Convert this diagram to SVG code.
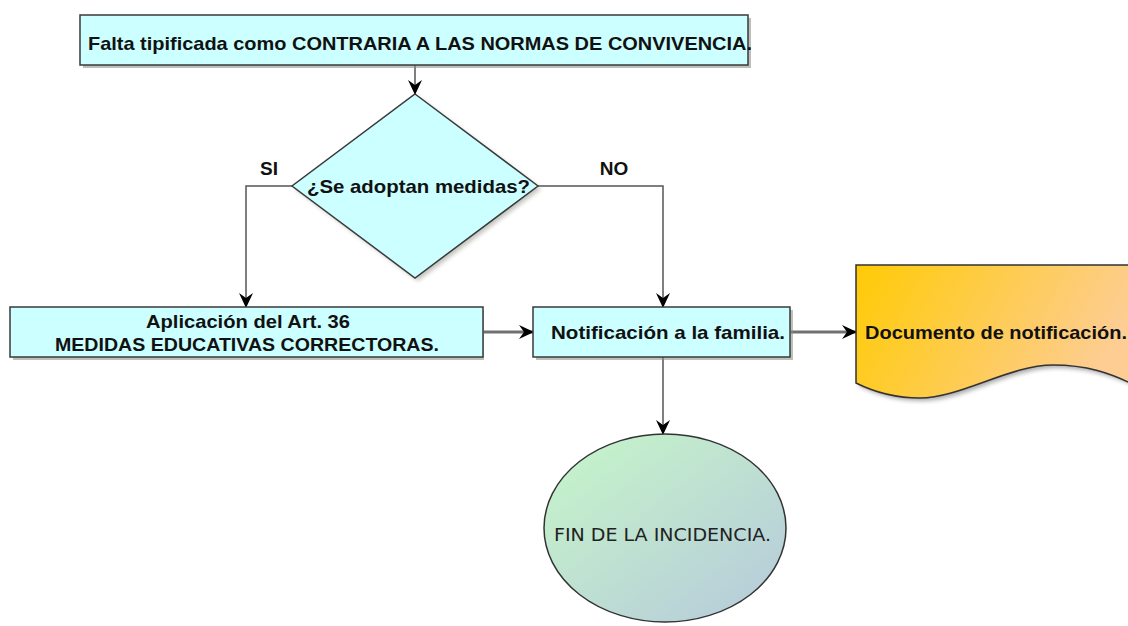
<svg xmlns="http://www.w3.org/2000/svg" width="1128" height="626" viewBox="0 0 1128 626">
<style>
.box{fill:#ccffff;stroke:#3a3a3a;stroke-width:1.5}
.shadow{fill:#8a8a80;opacity:0.55}
.lbl{font-family:"Liberation Sans Narrow","Liberation Sans",Arial,sans-serif;font-weight:bold;font-size:19px;fill:#111}
.reg{font-family:"DejaVu Sans","Liberation Sans",sans-serif;font-size:18px;fill:#222}
.con{fill:none;stroke:#555;stroke-width:1.5}
.conT{fill:none;stroke:#707070;stroke-width:3}
</style>
<defs>
<marker id="arr" markerWidth="16" markerHeight="16" refX="14" refY="8" orient="auto" markerUnits="userSpaceOnUse">
<path d="M0,1 L15,8 L0,15 L5,8 Z" fill="#000"/>
</marker>
<linearGradient id="docg" x1="0" y1="0" x2="1" y2="0.25">
<stop offset="0" stop-color="#ffcb05"/>
<stop offset="1" stop-color="#fdcd94"/>
</linearGradient>
<linearGradient id="endg" x1="0" y1="0" x2="1" y2="1">
<stop offset="0" stop-color="#c6f7c8"/>
<stop offset="1" stop-color="#b6c9dc"/>
</linearGradient>
<filter id="blur" x="-10%" y="-10%" width="130%" height="140%"><feGaussianBlur stdDeviation="2"/></filter>
</defs>

<g id="connectors">
<line class="con" x1="415" y1="65" x2="415" y2="94" marker-end="url(#arr)"/>
<polyline class="con" points="292,186 246,186 246,307" marker-end="url(#arr)"/>
<polyline class="con" points="538,186 663,186 663,307" marker-end="url(#arr)"/>
<line class="conT" x1="484" y1="332" x2="533" y2="332" marker-end="url(#arr)"/>
<line class="conT" x1="791" y1="332" x2="856" y2="332" marker-end="url(#arr)"/>
<line class="con" x1="663" y1="357" x2="663" y2="434" marker-end="url(#arr)"/>
<text class="lbl" x="269" y="175" text-anchor="middle">SI</text>
<text class="lbl" x="614" y="175" text-anchor="middle">NO</text>
</g>

<g id="n_falta">
<rect class="shadow" x="83" y="18" width="668" height="50"/>
<rect class="box" x="80" y="15" width="668" height="50"/>
<text class="lbl" x="88" y="50" textLength="664" lengthAdjust="spacingAndGlyphs">Falta tipificada como CONTRARIA A LAS NORMAS DE CONVIVENCIA.</text>
</g>

<g id="n_decision">
<polygon points="418,97 541,189 418,281 295,189" fill="#8a8a80" opacity="0.5" filter="url(#blur)"/>
<polygon class="box" points="415,94 538,186 415,278 292,186"/>
<text class="lbl" x="307" y="193" textLength="223" lengthAdjust="spacingAndGlyphs">¿Se adoptan medidas?</text>
</g>

<g id="n_aplicacion">
<rect class="shadow" x="13" y="310" width="471" height="50"/>
<rect class="box" x="10" y="307" width="473" height="50"/>
<text class="lbl" x="146" y="328" textLength="204" lengthAdjust="spacingAndGlyphs">Aplicación del Art. 36</text>
<text class="lbl" x="55" y="351" textLength="384" lengthAdjust="spacingAndGlyphs">MEDIDAS EDUCATIVAS CORRECTORAS.</text>
</g>

<g id="n_notificacion">
<rect class="shadow" x="536" y="310" width="257" height="50"/>
<rect class="box" x="533" y="307" width="257" height="50"/>
<text class="lbl" x="551" y="339" textLength="234" lengthAdjust="spacingAndGlyphs">Notificación a la familia.</text>
</g>

<g id="n_documento">
<path d="M859,268 L1140,268 L1140,388 C1110,375 1085,368 1056,368 C1013,368 963,401 923,401 C897,401 877,395 859,386 Z" fill="#777" opacity="0.6" filter="url(#blur)"/>
<path d="M856,265 L1140,265 L1140,388 C1110,372 1085,365 1053,365 C1010,365 960,398 920,398 C894,398 874,392 856,383 Z" fill="url(#docg)" stroke="#333" stroke-width="1.5"/>
<text class="lbl" x="865" y="339" textLength="262" lengthAdjust="spacingAndGlyphs">Documento de notificación.</text>
</g>

<g id="n_fin">
<ellipse cx="665" cy="528" rx="121" ry="94" fill="url(#endg)" stroke="#333" stroke-width="1.5"/>
<text class="reg" x="554" y="541" textLength="217" lengthAdjust="spacingAndGlyphs">FIN DE LA INCIDENCIA.</text>
</g>
</svg>
